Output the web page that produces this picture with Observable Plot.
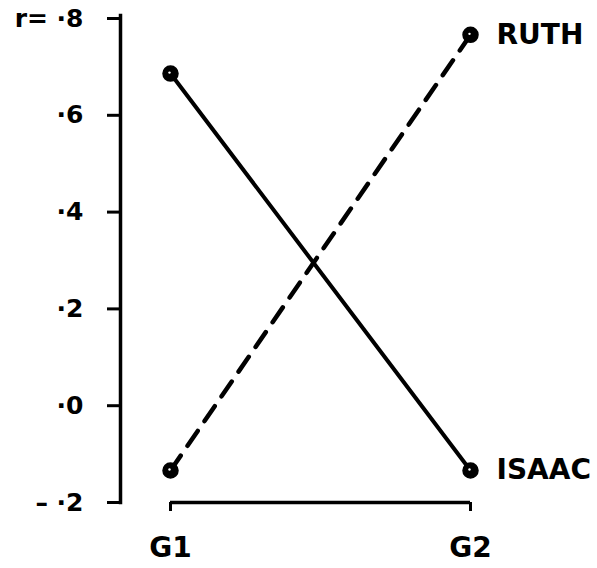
<!DOCTYPE html>
<html>
<head>
<meta charset="utf-8">
<script src="https://cdn.jsdelivr.net/npm/d3@7"></script>
<script src="https://cdn.jsdelivr.net/npm/@observablehq/plot@0.6"></script>
<style>
  html, body { margin: 0; padding: 0; background: #fff; }
  #chart svg { display: block; }
</style>
</head>
<body>
<div id="chart"></div>
<script>
const categories = ["G1", "G2"];
const seriesNames = ["ISAAC", "RUTH"];
const isaacValues = [0.68, -0.14];
const ruthValues = [-0.14, 0.76];
const yTicks = [-0.2, 0, 0.2, 0.4, 0.6, 0.8];
const yTickLabels = ["– ·2", "·0", "·2", "·4", "·6", "r= ·8"];

const isaac = categories.map((c, i) => ({group: c, value: isaacValues[i], name: seriesNames[0]}));
const ruth = categories.map((c, i) => ({group: c, value: ruthValues[i], name: seriesNames[1]}));
const allPts = isaac.concat(ruth);
const endLabels = [isaac[1], ruth[1]];

const font = "'DejaVu Sans', sans-serif";

const chart = Plot.plot({
  width: 597,
  height: 568,
  marginLeft: 120,
  marginRight: 127,
  marginTop: 15,
  marginBottom: 66,
  style: {fontFamily: font, background: "#fff", color: "#000"},
  x: {type: "point", domain: categories, range: [170, 470], padding: 0},
  y: {domain: [-0.2, 0.8], range: [499, 15]},
  marks: [
    Plot.frame({anchor: "left", stroke: "#000", strokeWidth: 3.5}),
    Plot.axisY({
      ticks: yTicks,
      tickFormat: d => yTickLabels[yTicks.findIndex(t => Math.abs(t - d) < 1e-9)],
      tickSize: 13,
      tickPadding: 24,
      strokeWidth: 3,
      fontSize: 25,
      fontWeight: "bold",
      dy: 3,
      label: null
    }),
    Plot.ruleY([yTicks[0]], {x1: () => categories[0], x2: () => categories[1], dy: 3, stroke: "#000", strokeWidth: 3.5}),
    Plot.axisX({
      tickSize: 9,
      tickPadding: 26,
      strokeWidth: 3,
      fontSize: 28,
      fontWeight: "bold",
      label: null
    }),
    Plot.line(isaac, {x: "group", y: "value", stroke: "#000", strokeWidth: 4}),
    Plot.line(ruth, {x: "group", y: "value", stroke: "#000", strokeWidth: 4.5, strokeDasharray: "18,12"}),
    Plot.dot(allPts, {x: "group", y: "value", r: 7.5, fill: "#000", stroke: "#000"}),
    Plot.dot(allPts, {x: "group", y: "value", r: 1.2, fill: "#fff", dx: -1, dy: -1}),
    Plot.text(endLabels, {x: "group", y: "value", text: "name", dx: 26, textAnchor: "start", fontSize: 28, fontWeight: "bold", fill: "#000"})
  ]
});
document.getElementById("chart").appendChild(chart);
</script>
</body>
</html>
